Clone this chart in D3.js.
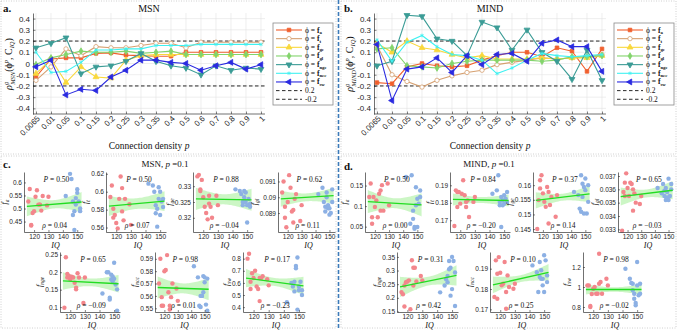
<!DOCTYPE html>
<html lang="en">
<head>
<meta charset="UTF-8">
<title>MSN / MIND feature correlations with IQ</title>
<script src="https://cdn.jsdelivr.net/npm/d3@7"></script>
<style>
  body { margin: 0; background: #fff; }
  svg { display: block; }
  .tick text { font-family: "Liberation Sans", Arial, sans-serif; fill: #262626; }
  .tick line { stroke: #333; stroke-width: 0.6; }
  .domain { stroke: #333; stroke-width: 0.7; }
  .serif { font-family: "Liberation Serif", "Times New Roman", serif; fill: #111; }
</style>
</head>
<body>
<svg id="fig" width="677" height="330"></svg>
<script>
// ---- panel a / b data (correlation vs connection density) ----
const densities = ["0.0065","0.01","0.05","0.1","0.15","0.2","0.25","0.3","0.35","0.4","0.5","0.6","0.7","0.8","0.9","1"];
const featKeys = ["a","t","ge","gl","nge","ncc","sw"];
const yTicksTop = [-0.4,-0.3,-0.2,-0.1,0,0.1,0.2,0.3,0.4];

const msn_fa   = [-0.12,0.04,0.05,0.05,0.09,0.095,0.075,0.07,0.065,0.065,0.10,0.10,0.10,0.10,0.10,0.10];
const msn_ft   = [-0.15,-0.03,0.13,0.07,0.15,0.14,0.14,0.16,0.18,0.18,0.14,0.19,0.19,0.19,0.19,0.19];
const msn_fge  = [-0.09,0.04,-0.17,-0.03,-0.12,-0.13,0.03,0.07,0.08,0.08,0.08,0.08,0.08,0.08,0.08,0.08];
const msn_fgl  = [-0.01,0.05,0.08,0.11,0.10,0.10,0.11,0.09,0.10,0.11,0.08,0.08,0.08,0.08,0.08,0.08];
const msn_fnge = [0.14,0.18,0.23,-0.09,-0.03,-0.02,0.02,0.09,0.02,-0.02,-0.04,-0.10,-0.02,-0.06,-0.04,-0.05];
const msn_fncc = [0.10,-0.08,-0.07,0.01,0.12,0.12,0.13,0.13,0.16,0.16,0.16,0.17,0.17,0.17,0.17,0.17];
const msn_fsw  = [-0.03,0.03,-0.28,-0.23,-0.24,-0.12,-0.06,0.03,0.03,0.01,0.00,-0.06,-0.02,0.01,-0.05,-0.01];

const mind_fa   = [-0.17,-0.18,-0.03,0.00,-0.02,-0.03,-0.02,0.03,0.07,0.10,0.10,0.06,0.14,0.11,-0.07,0.13];
const mind_ft   = [0.16,-0.10,-0.16,-0.21,-0.15,-0.11,-0.08,-0.06,-0.01,0.01,0.03,0.05,0.04,0.05,0.06,0.08];
const mind_fge  = [0.18,0.10,0.20,0.14,0.12,0.08,0.05,0.07,0.04,0.04,0.04,0.05,0.04,0.05,0.05,0.07];
const mind_fgl  = [0.13,0.14,-0.02,-0.03,-0.04,0.00,0.02,0.03,0.03,0.03,0.03,0.02,0.03,0.06,0.06,0.07];
const mind_fnge = [-0.02,0.02,0.43,0.42,0.22,0.20,0.07,0.37,0.32,0.12,0.30,0.10,0.02,-0.14,0.12,-0.15];
const mind_fncc = [0.21,0.02,0.19,0.25,0.15,0.08,0.07,0.03,-0.09,-0.04,0.03,0.09,0.07,0.06,0.07,0.08];
const mind_fsw  = [0.17,-0.33,-0.05,-0.03,0.05,-0.08,0.07,-0.01,0.08,0.09,0.02,0.18,0.21,0.15,0.15,-0.07];

// ---- panel c / d data (feature vs IQ at p = 0.1) ----
const iqLow  = [116,117,118,118,119,120,121,122,123,124,124,125,126,129,130];
const iqHigh = [142,145,146,147,147,148,148,149,149,150,150,151,152,152];
const iqTicks = [120,130,140,150];

const msnLow = [
  [0.527,0.575,0.435,0.437,0.483,0.49,0.545,0.57,0.515,0.515,0.515,0.492,0.548,0.512,0.545],
  [0.594,0.607,0.581,0.571,0.574,0.565,0.559,0.592,0.617,0.604,0.578,0.568,0.592,0.586,0.563],
  [0.3331,0.3336,0.3290,0.3285,0.3320,0.3265,0.3235,0.3215,0.3195,0.3270,0.3245,0.3235,0.3200,0.3270,0.3240],
  [0.0903,0.0910,0.0894,0.0887,0.0881,0.0897,0.0914,0.0906,0.0891,0.0892,0.0884,0.0899,0.0902,0.0885,0.0895],
  [0.098,0.243,0.195,0.185,0.19,0.18,0.187,0.185,0.17,0.156,0.151,0.197,0.185,0.112,0.185],
  [0.570,0.590,0.559,0.552,0.552,0.580,0.581,0.593,0.563,0.549,0.552,0.559,0.570,0.566,0.556],
  [0.80,0.84,0.55,0.61,0.68,0.64,0.70,0.57,0.55,0.45,0.64,0.64,0.655,0.63,0.58]
];
const msnHigh = [
  [0.548,0.633,0.613,0.527,0.475,0.49,0.418,0.54,0.515,0.574,0.56,0.527,0.50,0.49],
  [0.609,0.607,0.600,0.585,0.576,0.581,0.561,0.592,0.605,0.600,0.574,0.589,0.583,0.592],
  [0.3290,0.3285,0.3275,0.3250,0.3240,0.3285,0.3265,0.3250,0.3280,0.3240,0.3185,0.3260,0.3245,0.3235],
  [0.0902,0.0906,0.0897,0.0894,0.0891,0.0903,0.0900,0.0895,0.0893,0.0889,0.0893,0.0890,0.0897,0.0905],
  [0.139,0.2,0.2,0.127,0.122,0.193,0.179,0.174,0.188,0.227,0.181,0.165,0.151,0.09],
  [0.584,0.575,0.552,0.560,0.551,0.560,0.560,0.576,0.563,0.575,0.571,0.553,0.548,0.574],
  [0.44,0.6,0.57,0.53,0.61,0.74,0.72,0.81,0.38,0.54,0.57,0.61,0.5,0.54]
];
const msnYDomain = [[0.41,0.64],[0.555,0.622],[0.3155,0.3345],[0.0878,0.0916],[0.086,0.258],[0.547,0.5955],[0.36,0.855]];
const msnYTicks = [[0.45,0.5,0.55,0.6],[0.56,0.58,0.6,0.62],[0.32,0.325,0.33],[0.089,0.09,0.091],[0.1,0.15,0.2,0.25],[0.55,0.56,0.57,0.58,0.59],[0.4,0.5,0.6,0.7,0.8]];
const msnFit  = [[0.508,0.525],[0.584,0.5895],[0.326,0.3257],[0.0899,0.0901],[0.175,0.167],[0.5668,0.5654],[0.64,0.575]];
const msnBand = [[0.038,0.016],[0.011,0.006],[0.0035,0.0016],[0.0005,0.00025],[0.025,0.011],[0.0088,0.004],[0.075,0.033]];
const msnP   = ["0.50","0.50","0.88","0.62","0.65","0.98","0.17"];
const msnRho = ["0.04","0.07","\u22120.04","0.11","\u22120.09","0.01","\u22120.23"];

const mindLow = [
  [0.122,0.155,0.073,0.057,0.122,0.098,0.114,0.073,0.13,0.138,0.089,0.151,0.089,0.155,0.102],
  [0.1667,0.1871,0.1862,0.1776,0.1862,0.1795,0.1852,0.1929,0.1843,0.1805,0.1776,0.1814,0.1719,0.1805,0.1833],
  [0.1450,0.1549,0.1617,0.1589,0.1634,0.1572,0.1543,0.1526,0.1594,0.1577,0.1469,0.1532,0.1560,0.1492,0.1566],
  [0.0329,0.0358,0.0365,0.0355,0.0372,0.0361,0.0355,0.0365,0.0364,0.0360,0.0344,0.0357,0.0350,0.0349,0.0355],
  [0.221,0.213,0.168,0.245,0.257,0.26,0.264,0.158,0.338,0.245,0.31,0.31,0.26,0.28,0.264],
  [0.1761,0.1941,0.1875,0.1752,0.1957,0.1880,0.1818,0.1826,0.1933,0.1785,0.1703,0.1867,0.1810,0.1801,0.1826],
  [1.016,1.016,0.80,0.81,0.93,0.983,1.0,0.933,0.933,1.033,1.333,1.05,0.933,1.083,1.016]
];
const mindHigh = [
  [0.171,0.057,0.175,0.089,0.069,0.049,0.045,0.146,0.102,0.049,0.118,0.106,0.138,0.122],
  [0.1852,0.1871,0.1957,0.1805,0.1786,0.1662,0.1833,0.1814,0.1786,0.1843,0.1795,0.1824,0.1862,0.1805],
  [0.1577,0.1566,0.1520,0.1634,0.1509,0.1605,0.1560,0.1594,0.1503,0.1623,0.1583,0.1503,0.1543,0.1600],
  [0.0361,0.0357,0.0364,0.0355,0.0359,0.0352,0.0361,0.0354,0.0358,0.0352,0.0368,0.0355,0.0360,0.0364],
  [0.22,0.245,0.268,0.257,0.28,0.305,0.335,0.208,0.31,0.232,0.35,0.335,0.293,0.17],
  [0.1916,0.1883,0.1785,0.1933,0.1859,0.1850,0.1892,0.1818,0.1850,0.1785,0.1966,0.1941,0.1867,0.1834],
  [1.183,1.083,1.04,1.033,0.967,0.933,0.883,0.84,0.817,1.016,1.25,0.917,1.033,0.933]
];
const mindYDomain = [[0.037,0.183],[0.1633,0.1976],[0.144,0.1645],[0.0328,0.0373],[0.148,0.368],[0.1687,0.1982],[0.75,1.35]];
const mindYTicks = [[0.05,0.1,0.15],[0.17,0.18,0.19],[0.145,0.15,0.155,0.16],[0.033,0.034,0.035,0.036,0.037],[0.15,0.2,0.25,0.3,0.35],[0.17,0.18,0.19],[0.8,1,1.2]];
const mindFit  = [[0.111,0.103],[0.1819,0.1813],[0.1548,0.157],[0.03546,0.03593],[0.240,0.282],[0.182,0.1882],[0.975,0.975]];
const mindBand = [[0.028,0.012],[0.0034,0.0017],[0.0028,0.0012],[0.00068,0.0003],[0.037,0.016],[0.0041,0.0017],[0.05,0.022]];
const mindP   = ["0.50","0.84","0.37","0.65","0.31","0.10","0.98"];
const mindRho = ["0.00","\u22120.20","0.14","\u22120.03","0.42","0.25","\u22120.02"];

// ---- styles ----
const lineColors = ["#f0602e","#d6a070","#f9d83c","#83d46c","#3b9c96","#3ff1f1","#2a2ae0"];
const markers = [
  {type: d3.symbolSquare, size: 13, rot: 0, open: false},
  {type: d3.symbolCircle, size: 15, rot: 0, open: true},
  {type: d3.symbolTriangle, size: 15, rot: 0, open: false},
  {type: d3.symbolDiamond, size: 13, rot: 0, open: false},
  {type: d3.symbolTriangle, size: 15, rot: 180, open: false},
  {type: d3.symbolAsterisk, size: 9, rot: 0, open: true},
  {type: d3.symbolTriangle, size: 15, rot: -90, open: false}
];
const lowColor = "#f3868c", highColor = "#8cb0e4";

const svg = d3.select("#fig");

// append a run of tspans (text, italic, bold, size, dx, dy)
function rich(textSel, parts) {
  parts.forEach(p => {
    const ts = textSel.append("tspan").text(p.t);
    if (p.i) ts.attr("font-style", "italic");
    if (p.b) ts.attr("font-weight", "bold");
    if (p.s) ts.attr("font-size", p.s);
    if (p.dx) ts.attr("dx", p.dx);
    if (p.dy) ts.attr("dy", p.dy);
  });
  return textSel;
}

// ---- panel frames ----
const frames = [[1,1,335,153],[341,1,335,153],[1,156,335,172],[341,156,335,172]];
svg.selectAll("rect.frame").data(frames).enter().append("rect")
  .attr("class", "frame")
  .attr("x", d => d[0]).attr("y", d => d[1]).attr("width", d => d[2]).attr("height", d => d[3])
  .attr("fill", "none").attr("stroke", "#c4c4c4").attr("stroke-width", 0.8).attr("stroke-dasharray", "1,1.5");
svg.append("line").attr("x1", 338.5).attr("x2", 338.5).attr("y1", 0).attr("y2", 330)
  .attr("stroke", "#3c7bb9").attr("stroke-width", 1.6).attr("stroke-dasharray", "4,2");

// ---- top line panels ----
function drawLinePanel(ox, letter, title, tag, series) {
  const g = svg.append("g").attr("transform", `translate(${ox},0)`);
  const x = d3.scalePoint(densities, [36, 261]);
  const y = d3.scaleLinear([-0.45, 0.45], [114, 13]);

  // grid
  g.append("g").selectAll("line").data(yTicksTop).enter().append("line")
    .attr("x1", 33).attr("x2", 265).attr("y1", d => y(d)).attr("y2", d => y(d))
    .attr("stroke", "#e3e3e3").attr("stroke-width", 0.6);
  g.append("g").selectAll("line").data(densities).enter().append("line")
    .attr("x1", d => x(d)).attr("x2", d => x(d)).attr("y1", 13).attr("y2", 114)
    .attr("stroke", "#e3e3e3").attr("stroke-width", 0.6);

  // axes
  const ya = g.append("g").attr("transform", "translate(33,0)")
    .call(d3.axisLeft(y).tickValues(yTicksTop).tickSize(-2.5).tickSizeOuter(0).tickPadding(3)
      .tickFormat(d => d === 0 ? "0" : d.toFixed(1)));
  ya.selectAll("text").attr("font-size", 8);
  const xa = g.append("g").attr("transform", "translate(0,114)")
    .call(d3.axisBottom(x).tickSize(-2.5).tickSizeOuter(0));
  xa.select(".domain").attr("d", "M33,0H265");
  xa.selectAll("text").attr("font-size", 8).attr("text-anchor", "end")
    .attr("transform", "translate(2,3) rotate(-45)").attr("dy", "0.35em").attr("y", 0).attr("x", 0);

  // reference lines at +/-0.2
  [0.2, -0.2].forEach(v => {
    g.append("line").attr("x1", 33).attr("x2", 265).attr("y1", y(v)).attr("y2", y(v))
      .attr("stroke", "#111").attr("stroke-width", 0.9).attr("stroke-dasharray", "3.5,2.5");
  });

  // series
  const line = d3.line().x((d, i) => x(densities[i])).y(d => y(d));
  series.forEach((vals, k) => {
    g.append("path").datum(vals).attr("d", line).attr("fill", "none")
      .attr("stroke", lineColors[k]).attr("stroke-width", 1.1);
    const m = markers[k];
    g.append("g").selectAll("path").data(vals).enter().append("path")
      .attr("d", d3.symbol(m.type, m.size))
      .attr("transform", (d, i) => `translate(${x(densities[i])},${y(d)}) rotate(${m.rot})`)
      .attr("fill", m.open ? (m.type === d3.symbolAsterisk ? "none" : "#fff") : lineColors[k])
      .attr("stroke", lineColors[k]).attr("stroke-width", 0.8);
  });

  // legend
  const lg = g.append("g").attr("transform", "translate(273,23)");
  lg.append("rect").attr("width", 60).attr("height", 82).attr("fill", "#fff")
    .attr("stroke", "#8a8a8a").attr("stroke-width", 0.8);
  featKeys.forEach((k, i) => {
    const ry = 7 + 8.66 * i;
    lg.append("line").attr("x1", 3).attr("x2", 29).attr("y1", ry).attr("y2", ry)
      .attr("stroke", lineColors[i]).attr("stroke-width", 1.1);
    const m = markers[i];
    lg.append("path").attr("d", d3.symbol(m.type, m.size))
      .attr("transform", `translate(16,${ry}) rotate(${m.rot})`)
      .attr("fill", m.open ? (m.type === d3.symbolAsterisk ? "none" : "#fff") : lineColors[i])
      .attr("stroke", lineColors[i]).attr("stroke-width", 0.8);
    rich(lg.append("text").attr("class", "serif").attr("x", 32).attr("y", ry + 2.5).attr("font-size", 7.5),
      [{t: "\u03D5 = "}, {t: "f", b: 1}, {t: k, b: 1, s: 4.8, dy: 1.5}]);
  });
  ["0.2", "-0.2"].forEach((lab, j) => {
    const ry = 7 + 8.66 * (7 + j);
    lg.append("line").attr("x1", 3).attr("x2", 29).attr("y1", ry).attr("y2", ry)
      .attr("stroke", "#111").attr("stroke-width", 0.9).attr("stroke-dasharray", "3.5,2.5");
    lg.append("text").attr("class", "serif").attr("x", 32).attr("y", ry + 2.5)
      .attr("font-size", 7.5).text(lab);
  });

  // titles and labels
  g.append("text").attr("class", "serif").attr("x", 149).attr("y", 12)
    .attr("text-anchor", "middle").attr("font-size", 10).text(title);
  g.append("text").attr("class", "serif").attr("x", 3).attr("y", 12)
    .attr("font-size", 11).attr("font-weight", "bold").text(letter);
  rich(g.append("text").attr("class", "serif").attr("x", 149).attr("y", 149)
    .attr("text-anchor", "middle").attr("font-size", 9.5),
    [{t: "Connection density "}, {t: "p", i: 1}]);
  rich(g.append("text").attr("class", "serif").attr("transform", "translate(12,64) rotate(-90)")
    .attr("text-anchor", "middle").attr("font-size", 10),
    [{t: "\u03C1", i: 1}, {t: "g", i: 1, s: 6.5, dy: -4}, {t: tag, i: 1, s: 6.5, dx: -3, dy: 7},
     {t: "(\u03D5", dy: -3}, {t: "p", i: 1, s: 6.5, dy: -4}, {t: ", C", dy: 4},
     {t: "IQ", i: 1, s: 6.5, dy: 2}, {t: ")", dy: -2}]);
}

drawLinePanel(0, "a.", "MSN", "MSN", [msn_fa, msn_ft, msn_fge, msn_fgl, msn_fnge, msn_fncc, msn_fsw]);
drawLinePanel(341, "b.", "MIND", "MIND", [mind_fa, mind_ft, mind_fge, mind_fgl, mind_fnge, mind_fncc, mind_fsw]);

// ---- scatter subplots ----
const fitX = [115, 153];
function drawScatter(box, feat, low, high, dom, ticks, fit, band, P, rho) {
  const [L, T, W, H] = box;
  const x = d3.scaleLinear([113, 154], [L, L + W]);
  const y = d3.scaleLinear(dom, [T + H, T]);
  const g = svg.append("g");

  const xm = (fitX[0] + fitX[1]) / 2, hr = (fitX[1] - fitX[0]) / 2;
  const fy = v => fit[0] + (fit[1] - fit[0]) * (v - fitX[0]) / (fitX[1] - fitX[0]);
  const hw = v => Math.sqrt(band[1] ** 2 + (band[0] ** 2 - band[1] ** 2) * ((v - xm) / hr) ** 2);
  const xs = d3.range(fitX[0], fitX[1] + 0.01, 1);
  g.append("path").datum(xs)
    .attr("d", d3.area().x(v => x(v)).y0(v => y(fy(v) - hw(v))).y1(v => y(fy(v) + hw(v))))
    .attr("fill", "#c3f5bb").attr("opacity", 0.85);

  g.append("g").selectAll("circle").data(low).enter().append("circle")
    .attr("cx", (d, i) => x(iqLow[i])).attr("cy", d => y(d)).attr("r", 2.2).attr("fill", lowColor);
  g.append("g").selectAll("circle").data(high).enter().append("circle")
    .attr("cx", (d, i) => x(iqHigh[i])).attr("cy", d => y(d)).attr("r", 2.2).attr("fill", highColor);

  g.append("line").attr("x1", x(fitX[0])).attr("x2", x(fitX[1]))
    .attr("y1", y(fit[0])).attr("y2", y(fit[1])).attr("stroke", "#22dd22").attr("stroke-width", 1.3);

  const ya = g.append("g").attr("transform", `translate(${L},0)`)
    .call(d3.axisLeft(y).tickValues(ticks).tickSize(-2).tickSizeOuter(0).tickPadding(2).tickFormat(d => String(d)));
  ya.selectAll("text").attr("font-size", 6.5);
  const xa = g.append("g").attr("transform", `translate(0,${T + H})`)
    .call(d3.axisBottom(x).tickValues(iqTicks).tickSize(-2).tickSizeOuter(0).tickPadding(2));
  xa.selectAll("text").attr("font-size", 6.5);

  // getBBox is in the axis group's own coordinates, so add the offset L
  const bb = ya.node().getBBox();
  const lx = Math.max(7, L + bb.x - 3);
  rich(g.append("text").attr("class", "serif")
    .attr("transform", `translate(${lx},${T + H / 2}) rotate(-90)`)
    .attr("text-anchor", "middle").attr("font-size", 8),
    [{t: "f", i: 1}, {t: feat, i: 1, s: 5.5, dy: 1.8}]);
  g.append("text").attr("class", "serif").attr("x", L + W / 2 + 2).attr("y", T + H + 16)
    .attr("text-anchor", "middle").attr("font-size", 8).attr("font-style", "italic").text("IQ");
  rich(g.append("text").attr("class", "serif").attr("x", L + W * 0.55).attr("y", T + 10)
    .attr("text-anchor", "middle").attr("font-size", 7.5),
    [{t: "P", i: 1}, {t: " = " + P}]);
  rich(g.append("text").attr("class", "serif").attr("x", L + W * 0.52).attr("y", T + H - 4)
    .attr("text-anchor", "middle").attr("font-size", 7.5),
    [{t: "\u03C1", i: 1}, {t: " = " + rho}]);
}

const msnBoxes  = [[24,172,59,60],[106,172,60,60],[193,172,60,60],[278,172,57,60],[60,252,60,60],[155,252,55,60],[243,252,62,60]];
const mindBoxes = [[365,172,58,60],[450,172,60,60],[533,172,58,60],[618,172,56,60],[397,252,61,60],[490,252,60,60],[583,252,60,60]];

featKeys.forEach((k, i) => {
  drawScatter(msnBoxes[i], k, msnLow[i], msnHigh[i], msnYDomain[i], msnYTicks[i], msnFit[i], msnBand[i], msnP[i], msnRho[i]);
  drawScatter(mindBoxes[i], k, mindLow[i], mindHigh[i], mindYDomain[i], mindYTicks[i], mindFit[i], mindBand[i], mindP[i], mindRho[i]);
});

// panel c / d headings
svg.append("text").attr("class", "serif").attr("x", 3).attr("y", 168)
  .attr("font-size", 11).attr("font-weight", "bold").text("c.");
svg.append("text").attr("class", "serif").attr("x", 344).attr("y", 170)
  .attr("font-size", 11).attr("font-weight", "bold").text("d.");
rich(svg.append("text").attr("class", "serif").attr("x", 165).attr("y", 167)
  .attr("text-anchor", "middle").attr("font-size", 9),
  [{t: "MSN, "}, {t: "p", i: 1}, {t: " =0.1"}]);
rich(svg.append("text").attr("class", "serif").attr("x", 489).attr("y", 167)
  .attr("text-anchor", "middle").attr("font-size", 9),
  [{t: "MIND, "}, {t: "p", i: 1}, {t: " =0.1"}]);
</script>
</body>
</html>
